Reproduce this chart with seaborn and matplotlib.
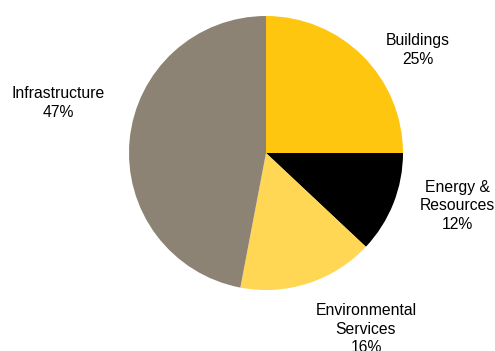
import matplotlib
matplotlib.use("Agg")
import matplotlib.pyplot as plt
import seaborn as sns

categories = ["Buildings", "Energy &\nResources", "Environmental\nServices", "Infrastructure"]
values = [25, 12, 16, 47]
colors = ["#FFC60F", "#000000", "#FFD754", "#8C8374"]
label_pos = [(418, 50), (457, 206), (366, 329), (58, 103)]

sns.set_style("white")
plt.rcParams['font.family'] = ['Liberation Sans', 'DejaVu Sans']

fig = plt.figure(figsize=(4.95, 3.51), dpi=100)
ax = fig.add_axes([0, 0, 1, 1])

# pie drawn in pixel-like data coordinates (y axis inverted, so counterclock flips)
ax.pie(values, colors=colors, startangle=-90, counterclock=True,
       center=(266, 153), radius=137, frame=True,
       wedgeprops=dict(linewidth=0))
ax.set_xlim(0, 495)
ax.set_ylim(351, 0)
ax.set_aspect("auto")
ax.axis("off")

for cat, v, (x, y) in zip(categories, values, label_pos):
    ax.text(x, y, f"{cat}\n{v}%", ha="center", va="center",
            fontsize=11.3, color="#000000", linespacing=1.27)

fig.savefig("out.png", dpi=100)
